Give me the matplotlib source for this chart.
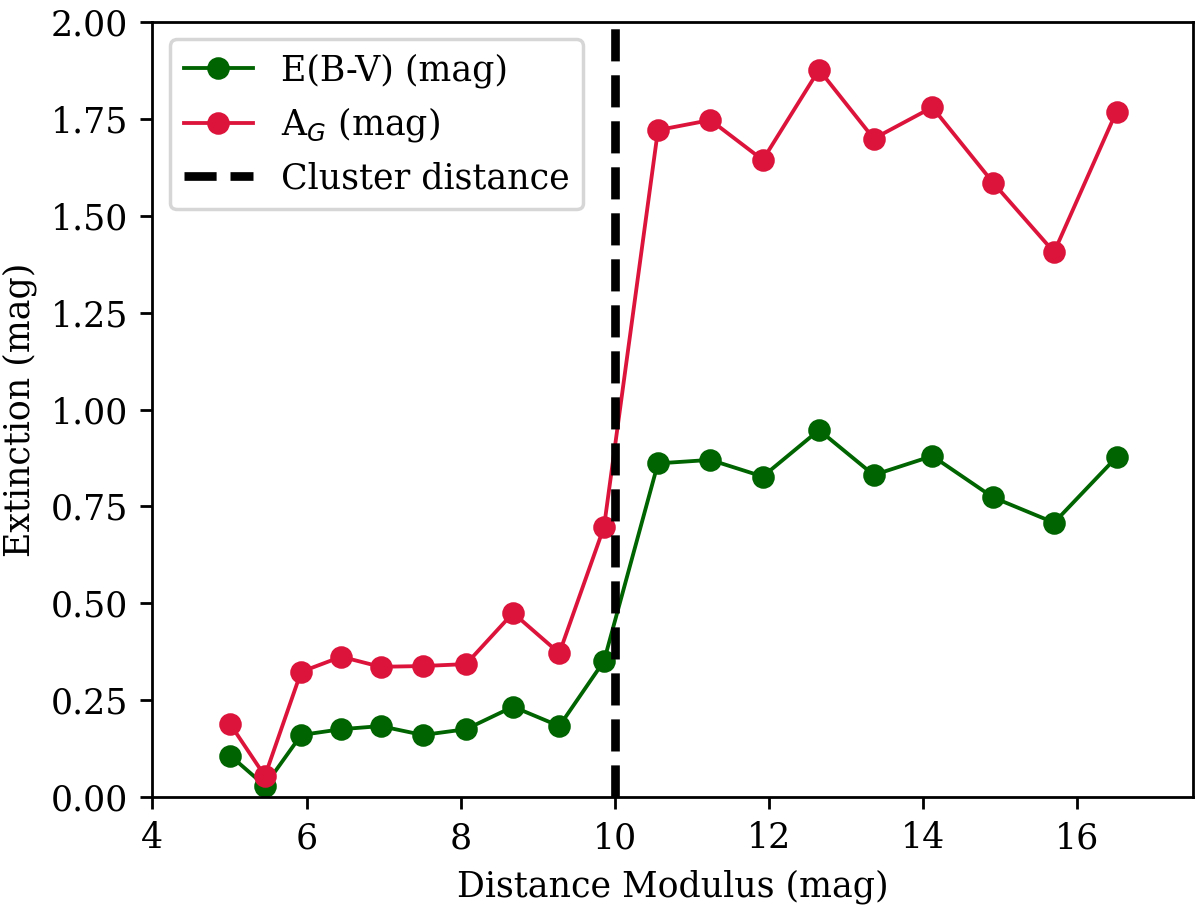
import numpy as np
import matplotlib
matplotlib.use("Agg")
import matplotlib.pyplot as plt

plt.rcParams['font.family'] = 'serif'
plt.rcParams['font.serif'] = ['DejaVu Serif']

# distance modulus bins (mag)
dist_mod = [5.01, 5.46, 5.93, 6.45, 6.96, 7.51, 8.07, 8.68, 9.28, 9.86,
            10.56, 11.24, 11.92, 12.65, 13.36, 14.12, 14.91, 15.70, 16.51]

# reddening E(B-V) per bin
ebv = [0.107, 0.029, 0.160, 0.175, 0.183, 0.160, 0.175, 0.233, 0.183, 0.351,
       0.861, 0.870, 0.827, 0.947, 0.831, 0.880, 0.773, 0.708, 0.877]

# extinction in G band
a_g = [0.188, 0.054, 0.323, 0.362, 0.336, 0.338, 0.343, 0.475, 0.371, 0.697,
       1.721, 1.747, 1.644, 1.877, 1.699, 1.780, 1.585, 1.406, 1.769]

cluster_dm = 10.0

fig = plt.figure(figsize=(4.8, 3.624), dpi=250)
ax = fig.add_axes([0.127, 0.1203, 0.867, 0.8554])

ax.plot(dist_mod, ebv, '-o', color='darkgreen', lw=1.1, ms=5.5, label='E(B-V) (mag)')
ax.plot(dist_mod, a_g, '-o', color='crimson', lw=1.1, ms=5.5, label='A$_G$ (mag)')
ax.axvline(cluster_dm, color='black', ls='--', lw=2.5, label='Cluster distance')

ax.set_xlim(4, 17.5)
ax.set_ylim(0, 2)
ax.set_yticks(np.arange(0, 2.01, 0.25))
ax.set_xlabel('Distance Modulus (mag)')
ax.set_ylabel('Extinction (mag)')
ax.legend(loc='upper left')

fig.savefig('out.png', dpi=250)
